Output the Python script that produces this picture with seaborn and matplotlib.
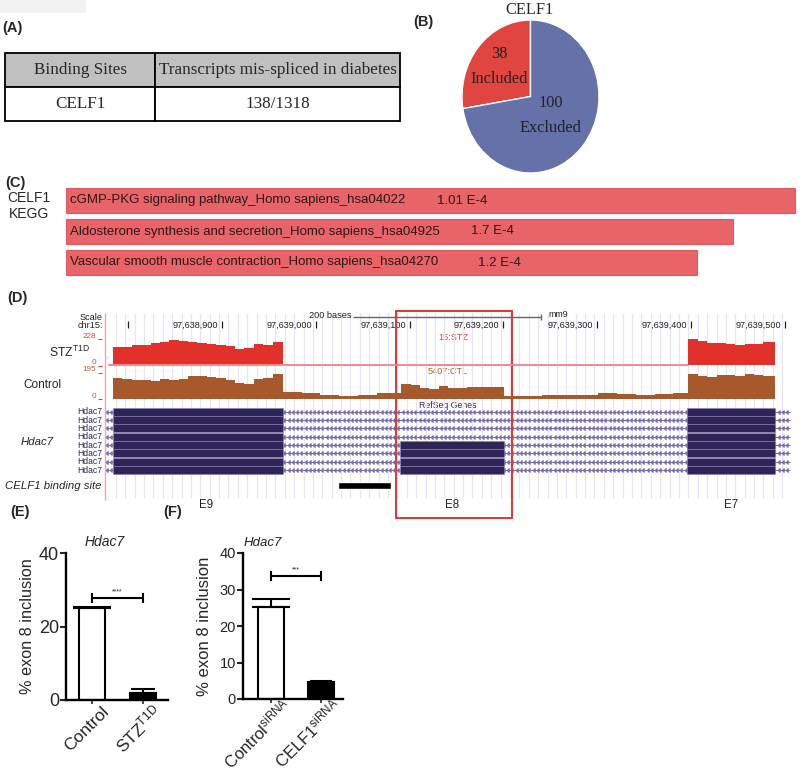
"""
CELF1 / Hdac7 figure - table, pie, KEGG bars, browser view and two bar charts
"""

import numpy as np
import matplotlib
matplotlib.use("Agg")
import matplotlib.pyplot as plt
from matplotlib.patches import Rectangle
from matplotlib.transforms import ScaledTranslation
import seaborn as sns

sns.set_style("white")
plt.rcParams['font.family'] = ['Liberation Sans', 'DejaVu Sans']
plt.rcParams['mathtext.fontset'] = 'custom'
plt.rcParams['mathtext.rm'] = 'Liberation Sans'
plt.rcParams['mathtext.it'] = 'Liberation Sans:italic'
plt.rcParams['axes.unicode_minus'] = False

W, H = 800, 776

# ---------------- data ----------------
# (A)
table_header = ["Binding Sites", "Transcripts mis-spliced in diabetes"]
table_row = ["CELF1", "138/1318"]

# (B)
pie_labels = ["Included", "Excluded"]
pie_counts = [38, 100]

# (C)
kegg_terms = ["cGMP-PKG signaling pathway_Homo sapiens_hsa04022",
              "Aldosterone synthesis and secretion_Homo sapiens_hsa04925",
              "Vascular smooth muscle contraction_Homo sapiens_hsa04270"]
kegg_pvals = ["1.01 E-4", "1.7 E-4", "1.2 E-4"]
kegg_score = [0.993, 0.909, 0.860]

# (D) genome browser, chr15 (mm9)
base = 97638000
browser_ticks = [97638900, 97639000, 97639100, 97639200, 97639300, 97639400, 97639500]
cov_bins = [784, 794, 804, 814, 824, 834, 844, 854, 864, 874, 884, 894, 904, 914, 924, 934, 944, 954,
            965, 985, 1005, 1025, 1045, 1065,
            1091, 1101, 1111, 1121, 1131, 1141, 1151, 1161, 1171, 1181, 1191,
            1201, 1221, 1241, 1261, 1281, 1301, 1321, 1341, 1361, 1381,
            1397, 1407, 1417, 1427, 1437, 1447, 1457, 1467, 1477]
cov_end = 1489
stz_cov = [155, 160, 175, 178, 196, 205, 219, 213, 199, 190, 181, 175, 167, 143, 146, 184, 178, 200,
           0, 0, 0, 0, 0, 0,
           0, 0, 0, 0, 0, 0, 0, 0, 0, 0, 0,
           0, 0, 0, 0, 0, 0, 0, 0, 0, 0,
           225, 210, 196, 190, 184, 175, 181, 184, 200]
ctl_cov = [149, 142, 137, 137, 132, 147, 137, 142, 168, 166, 161, 149, 137, 118, 108, 142, 149, 178,
           48, 40, 30, 25, 30, 40,
           110, 100, 76, 74, 92, 82, 78, 88, 84, 84, 90,
           22, 24, 28, 30, 30, 42, 36, 30, 36, 44,
           178, 168, 161, 170, 173, 166, 178, 176, 165]
stz_max, ctl_max = 228, 195

exon_names = ["E9", "E8", "E7"]
exon_start = [97638784, 97639090, 97639396]
exon_end = [97638965, 97639201, 97639489]
exon_rows = [[0, 1, 2, 3, 4, 5, 6, 7], [4, 5, 6, 7], [0, 1, 2, 3, 4, 5, 6, 7]]
n_isoforms = 8
celf1_site = (97639024, 97639080)
highlight = (97639085, 97639209)

# (E)
e_groups = ["Control", r"STZ$^{\mathrm{T1D}}$"]
e_mean = [25.0, 1.9]
e_err = [0.4, 1.2]
e_sig = (27.8, "****")

# (F)
f_groups = [r"Control$^{\mathrm{siRNA}}$", r"CELF1$^{\mathrm{siRNA}}$"]
f_mean = [25.2, 4.7]
f_err = [2.2, 0.2]
f_sig = (33.7, "***")

# ---------------- helpers ----------------
fig = plt.figure(figsize=(W / 100, H / 100), dpi=100)


def px_axes(x0, y0, x1, y1):
    return fig.add_axes([x0 / W, 1 - y1 / H, (x1 - x0) / W, (y1 - y0) / H])


def gpos(px):
    # browser pixel -> genomic coordinate
    return 97638800 + (px - 128) / 0.9386


serif = ['Liberation Serif', 'DejaVu Serif']
narrow = ['Liberation Sans Narrow', 'Liberation Sans', 'DejaVu Sans']

# overlay in pixel coordinates for labels
bg = px_axes(0, 0, W, H)
bg.set_xlim(0, W)
bg.set_ylim(H, 0)
bg.axis("off")
bg.add_patch(Rectangle((0, 0), 86, 13, color="#f2f2f2", lw=0))

for lab, x, y in [("(A)", 2, 28), ("(B)", 413, 22), ("(C)", 5, 183),
                  ("(D)", 7, 298), ("(E)", 10, 512), ("(F)", 163, 512)]:
    bg.text(x, y, lab, fontsize=10.5, fontweight="bold", va="center", ha="left")

# ---------------- (A) table ----------------
axT = px_axes(5, 53, 400, 121)
axT.axis("off")
tab = axT.table(cellText=[table_row], colLabels=table_header,
                colWidths=[150 / 395, 245 / 395], bbox=[0, 0, 1, 1], cellLoc="center")
tab.auto_set_font_size(False)
for (r, c), cell in tab.get_celld().items():
    cell.set_linewidth(1.3)
    cell.get_text().set_fontsize(12.3)
    cell.get_text().set_fontfamily(serif)
    if r == 0:
        cell.set_facecolor("#c0c0c0")

# ---------------- (B) pie ----------------
axP = px_axes(462, 20, 599, 173)
wedges, texts = axP.pie(pie_counts, colors=["#e0453f", "#6571a9"], startangle=90,
                        counterclock=True, radius=1,
                        labels=[f"{c}\n{l}" for c, l in zip(pie_counts, pie_labels)],
                        textprops=dict(fontsize=11.7, family=serif, color="#222222",
                                       ha="center", va="center", linespacing=1.75))
for w, t, d in zip(wedges, texts, [0.60, 0.39]):
    ang = np.deg2rad((w.theta1 + w.theta2) / 2)
    t.set_position((d * np.cos(ang), d * np.sin(ang)))
    t.set_ha("center")
axP.set_aspect("auto")
axP.set_xlim(-1, 1)
axP.set_ylim(-1, 1)
bg.text(530, 10, "CELF1", fontsize=11.8, family=serif, ha="center", va="center")

# ---------------- (C) KEGG ----------------
axK = px_axes(66, 185, 800, 278)
sns.barplot(x=kegg_score, y=kegg_terms, orient="y", color="#e96468", saturation=1,
            edgecolor="#dc5a5e", linewidth=0.8, width=0.81, ax=axK)
axK.set_xlim(0, 1)
axK.axis("off")
for i, (term, p, px) in enumerate(zip(kegg_terms, kegg_pvals, [0.505, 0.552, 0.561])):
    axK.text(0.006, i, term, va="center", ha="left", fontsize=9.5, family=narrow, color="#2e1616")
    axK.text(px, i, p, va="center", ha="left", fontsize=9.5, family=narrow, color="#2e1616")
bg.text(29, 206, "CELF1\nKEGG", fontsize=10, family=narrow, ha="center", va="center",
        linespacing=1.2)

# ---------------- (D) browser ----------------
axD = px_axes(0, 290, W, 520)
axD.set_xlim(gpos(0), gpos(W))
axD.set_ylim(520, 290)
axD.axis("off")

grid_x = np.arange(97638787, 97639506, 10)
axD.vlines(grid_x, 313, 498, color="#e9e3f1", lw=0.9, zorder=0)

for t in browser_ticks:
    axD.text(t - 4, 325, f"{t:,}", ha="right", va="center", fontsize=6.6, color="#222222")
axD.vlines([97638800] + browser_ticks, 321.5, 328.5, color="#222222", lw=0.9)

axD.hlines(317, 97639040, 97639240, color="#666666", lw=1.0)
axD.vlines([97639240], 314, 320, color="#666666", lw=1.0)
axD.text(97639038, 316, "200 bases", ha="right", va="center", fontsize=6.6, color="#222222")
axD.text(97639248, 315, "mm9", ha="left", va="center", fontsize=6.4, color="#222222")

# isoform rows
row_y = [411.7 + 8.33 * i for i in range(n_isoforms)]
gene_col = "#2e2458"
for y in row_y:
    axD.hlines(y, gpos(106), gpos(790), color="#7a6eaa", lw=0.8, zorder=2)
    arr_x = np.arange(gpos(108), gpos(790), 4.5)
    axD.plot(arr_x, [y] * len(arr_x), ls="none", marker=8, ms=2.2, color="#7a6eaa", zorder=2)
for s, e, rows in zip(exon_start, exon_end, exon_rows):
    for r in rows:
        axD.broken_barh([(s, e - s)], (row_y[r] - 4.1, 8.2), facecolor=gene_col,
                        edgecolor="#8b80b5", lw=0.4, zorder=3)

axD.broken_barh([(celf1_site[0], celf1_site[1] - celf1_site[0])], (482, 7),
                facecolor="black", zorder=3)
axD.add_patch(Rectangle((highlight[0], 311), highlight[1] - highlight[0], 207,
                        fill=False, edgecolor="#e8322e", lw=1.4, zorder=6))

for name, s, e in zip(exon_names, exon_start, exon_end):
    mid = (s + e) / 2
    if name == "E9":
        mid = 97638883
    axD.text(mid, 505, name, ha="center", va="center", fontsize=8.3, color="#222222")

# coverage tracks
cov_x = [base + b for b in cov_bins] + [base + cov_end]
axS = px_axes(0, 339, W, 365)
axS.set_xlim(gpos(0), gpos(W))
axS.set_ylim(0, stz_max)
axS.axis("off")
axS.hlines(0, gpos(108), gpos(688), color="#f28b8b", lw=1.4, clip_on=False)
axS.fill_between(cov_x, 0, stz_cov + [stz_cov[-1]], step="post", color="#e2312b", lw=0)

axC = px_axes(0, 372, W, 399)
axC.set_xlim(gpos(0), gpos(W))
axC.set_ylim(0, ctl_max)
axC.axis("off")
axC.fill_between(cov_x, 0, ctl_cov + [ctl_cov[-1]], step="post", color="#a65a2c", lw=0)

# left-side browser labels
bg.vlines(105, 313, 500, color="#f4a4a4", lw=1.0)
bg.text(103, 317, "Scale", ha="right", va="center", fontsize=6.6, color="#222222")
bg.text(103, 325, "chr15:", ha="right", va="center", fontsize=6.6, color="#222222")
for txt, y, col in [(str(stz_max), 336, "#e8403a"), ("0", 362.5, "#e8403a"),
                    (str(ctl_max), 369.5, "#b0602e"), ("0", 396, "#b0602e")]:
    bg.text(96, y, txt, ha="right", va="center", fontsize=5.9, color=col)
    bg.hlines(y + 3, 98, 102, color=col, lw=0.8)
bg.text(453, 337, "15:STZ", ha="center", va="center", fontsize=6.6, color="#e8403a")
bg.text(448, 371, "5407:CTL", ha="center", va="center", fontsize=6.6, color="#b0602e")
bg.text(448, 406, "RefSeq Genes", ha="center", va="center", fontsize=6.3, color=gene_col)
for y in row_y:
    bg.text(102, y, "Hdac7", ha="right", va="center", fontsize=6.2, color=gene_col)
bg.text(70, 352, r"STZ$^{\mathrm{T1D}}$", ha="center", va="center", fontsize=8.8)
bg.text(42, 385, "Control", ha="center", va="center", fontsize=8.5)
bg.text(37, 442, "Hdac7", ha="center", va="center", fontsize=8.2, style="italic")
bg.text(5, 486, "CELF1 binding site", ha="left", va="center", fontsize=8.2, style="italic")


# ---------------- (E) / (F) bar charts ----------------
def exon_bars(ax, groups, mean, err, sig, yticks, xlim, width, tick_fs, lab_fs, title_fs,
              title_x, caps, ylab_x, lab_off):
    sns.barplot(x=groups, y=mean, hue=groups, palette=["white", "black"], saturation=1,
                edgecolor="black", linewidth=1.5, width=width, errorbar=None, legend=False, ax=ax)
    for i, (m, e, c) in enumerate(zip(mean, err, caps)):
        ax.errorbar(i, m, yerr=[[0], [e]], fmt="none", ecolor="black", elinewidth=1.5,
                    capsize=c, capthick=1.5)
    ax.plot([0, 1], [sig[0], sig[0]], color="black", lw=1.5, marker="|", ms=7, mew=1.5)
    ax.text(0.5, sig[0] + 0.6, sig[1], ha="center", va="bottom", fontsize=5)
    ax.set_xlim(*xlim)
    ax.set_ylim(0, 40)
    ax.set_yticks(yticks)
    ax.set_xticks([0, 1])
    ax.set_xticklabels([])
    off = ScaledTranslation(lab_off[0] / 100, lab_off[1] / 100, fig.dpi_scale_trans)
    for i, g in enumerate(groups):
        ax.text(i, 0, g, transform=ax.get_xaxis_transform() + off, rotation=45,
                ha="right", va="center", rotation_mode="anchor", fontsize=lab_fs)
    ax.tick_params(axis="y", labelsize=tick_fs, length=4, width=1.5, pad=1, left=True)
    ax.tick_params(axis="x", length=3, width=1.2, bottom=True)
    ax.set_facecolor("none")
    sns.despine(ax=ax)
    for s in ["left", "bottom"]:
        ax.spines[s].set_linewidth(1.7)
        ax.spines[s].set_color("black")
    ax.set_title("Hdac7", style="italic", fontsize=title_fs, pad=5, x=title_x)
    ax.set_ylabel("% exon 8 inclusion", fontsize=tick_fs - 1.3)
    ax.yaxis.set_label_coords(ylab_x, 0.5)


axE = px_axes(66, 553, 168, 700)
exon_bars(axE, e_groups, e_mean, e_err, e_sig, [0, 20, 40], (-0.5, 1.48), 0.51,
          13, 12.5, 10, 0.38, [14, 8.5], -0.30, (15, -9))

axF = px_axes(243, 553, 343, 699)
exon_bars(axF, f_groups, f_mean, f_err, f_sig, [0, 10, 20, 30, 40], (-0.55, 1.45), 0.52,
          10.5, 12, 9.5, 0.2, [14, 8], -0.31, (18, -4))
axF.yaxis.label.set_fontsize(12)

fig.savefig("out.png", dpi=100)
